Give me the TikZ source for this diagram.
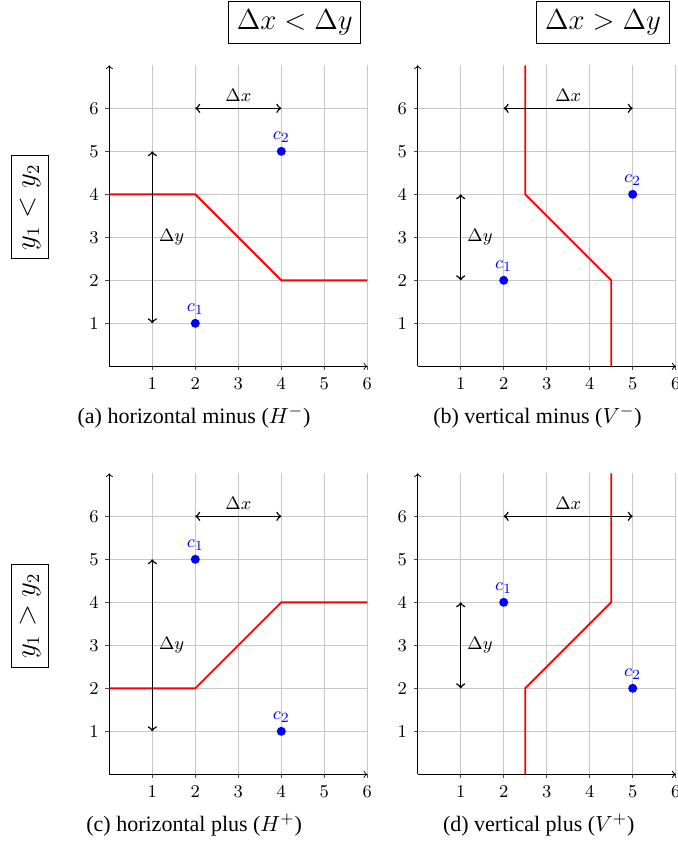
\documentclass[tikz,border=0pt]{standalone}
\usepackage{fontspec}
\setmainfont{Liberation Serif}
\tikzset{
  gridline/.style={black!22, line width=0.55pt},
  axisline/.style={black, line width=0.45pt, ->},
  ticktick/.style={black!70, line width=0.4pt},
  ticklbl/.style={font=\fontsize{9}{10}\selectfont, inner sep=0pt},
  redpath/.style={red, line width=0.95pt, line join=miter},
  dimarrow/.style={<->, black, line width=0.75pt},
  dimlbl/.style={font=\fontsize{9}{10}\selectfont, inner sep=3pt},
  cdot/.style={circle, fill=blue, draw=none, inner sep=0pt, minimum size=4.5pt},
  clabel/.style={text=blue, font=\fontsize{9.5}{10}\selectfont, inner sep=1pt, anchor=south},
  headbox/.style={draw, line width=0.5pt, font=\fontsize{13.5}{16}\selectfont, inner sep=4.2pt},
  captext/.style={font=\fontsize{11}{13}\selectfont, anchor=base, inner sep=0pt}
}
\newcommand{\drawframe}[1]{%
  \foreach \i in {1,...,6} {
    \draw[gridline] (\i,0) -- (\i,7);
    \draw[gridline] (0,\i) -- (6,\i);
    \draw[ticktick] (\i,0) -- ++(0,-2pt);
    \draw[ticktick] (0,\i) -- ++(-2pt,0);
    \node[ticklbl, yshift=-8.5pt] (#1-xt\i) at (\i,0) {$\i$};
    \node[ticklbl, xshift=-7.7pt] (#1-yt\i) at (0,\i) {$\i$};
  }
  \coordinate (#1-o) at (0,0);
  \coordinate (#1-xe) at (6,0);
  \coordinate (#1-ye) at (0,7);
  \draw[axisline] (#1-o) -- (#1-xe);
  \draw[axisline] (#1-o) -- (#1-ye);
}
\begin{document}
\begin{tikzpicture}[x=0.5pt,y=-0.5pt]
\useasboundingbox (0,0) rectangle (677,843);

% column and row headers
\node[headbox] (hdA) at (294.7,22.2) {$\Delta x < \Delta y$};
\node[headbox] (hdB) at (603,22.2) {$\Delta x > \Delta y$};
\node[headbox, rotate=90] (rowA) at (30,207.3) {$y_1 < y_2$};
\node[headbox, rotate=90] (rowB) at (30,616) {$y_1 > y_2$};

% (a)
\begin{scope}[shift={(109.3,366.3)}, x=21.5pt, y=21.5pt]
  \drawframe{a}
  \draw[redpath] (0,4) -- (2,4) -- (4,2) -- (6,2);
  \coordinate (a-dx1) at (2,6); \coordinate (a-dx2) at (4,6);
  \coordinate (a-dy1) at (1,1); \coordinate (a-dy2) at (1,5);
  \draw[dimarrow] (a-dx1) -- node[dimlbl, above] (a-dxl) {$\Delta x$} (a-dx2);
  \draw[dimarrow] (a-dy1) -- node[dimlbl, right] (a-dyl) {$\Delta y$} (a-dy2);
  \node[cdot] (a-c1) at (2,1) {};
  \node[cdot] (a-c2) at (4,5) {};
  \node[clabel] (a-c1l) at ([yshift=0.8pt]a-c1.north) {$c_1$};
  \node[clabel] (a-c2l) at ([yshift=0.8pt]a-c2.north) {$c_2$};
\end{scope}

% (b)
\begin{scope}[shift={(417.7,366.3)}, x=21.5pt, y=21.5pt]
  \drawframe{b}
  \draw[redpath] (2.5,7) -- (2.5,4) -- (4.5,2) -- (4.5,0);
  \coordinate (b-dx1) at (2,6); \coordinate (b-dx2) at (5,6);
  \coordinate (b-dy1) at (1,2); \coordinate (b-dy2) at (1,4);
  \draw[dimarrow] (b-dx1) -- node[dimlbl, above] (b-dxl) {$\Delta x$} (b-dx2);
  \draw[dimarrow] (b-dy1) -- node[dimlbl, right] (b-dyl) {$\Delta y$} (b-dy2);
  \node[cdot] (b-c1) at (2,2) {};
  \node[cdot] (b-c2) at (5,4) {};
  \node[clabel] (b-c1l) at ([yshift=0.8pt]b-c1.north) {$c_1$};
  \node[clabel] (b-c2l) at ([yshift=0.8pt]b-c2.north) {$c_2$};
\end{scope}

% (c)
\begin{scope}[shift={(109.3,774.3)}, x=21.5pt, y=21.5pt]
  \drawframe{c}
  \draw[redpath] (0,2) -- (2,2) -- (4,4) -- (6,4);
  \coordinate (c-dx1) at (2,6); \coordinate (c-dx2) at (4,6);
  \coordinate (c-dy1) at (1,1); \coordinate (c-dy2) at (1,5);
  \draw[dimarrow] (c-dx1) -- node[dimlbl, above] (c-dxl) {$\Delta x$} (c-dx2);
  \draw[dimarrow] (c-dy1) -- node[dimlbl, right] (c-dyl) {$\Delta y$} (c-dy2);
  \node[cdot] (c-c1) at (2,5) {};
  \node[cdot] (c-c2) at (4,1) {};
  \node[clabel] (c-c1l) at ([yshift=0.8pt]c-c1.north) {$c_1$};
  \node[clabel] (c-c2l) at ([yshift=0.8pt]c-c2.north) {$c_2$};
\end{scope}

% (d)
\begin{scope}[shift={(417.7,774.3)}, x=21.5pt, y=21.5pt]
  \drawframe{d}
  \draw[redpath] (2.5,0) -- (2.5,2) -- (4.5,4) -- (4.5,7);
  \coordinate (d-dx1) at (2,6); \coordinate (d-dx2) at (5,6);
  \coordinate (d-dy1) at (1,2); \coordinate (d-dy2) at (1,4);
  \draw[dimarrow] (d-dx1) -- node[dimlbl, above] (d-dxl) {$\Delta x$} (d-dx2);
  \draw[dimarrow] (d-dy1) -- node[dimlbl, right] (d-dyl) {$\Delta y$} (d-dy2);
  \node[cdot] (d-c1) at (2,4) {};
  \node[cdot] (d-c2) at (5,2) {};
  \node[clabel] (d-c1l) at ([yshift=0.8pt]d-c1.north) {$c_1$};
  \node[clabel] (d-c2l) at ([yshift=0.8pt]d-c2.north) {$c_2$};
\end{scope}

% captions
\node[captext] (capA) at (194,423) {(a) horizontal minus ($H^-$)};
\node[captext] (capB) at (537.5,423) {(b) vertical minus ($V^-$)};
\node[captext] (capC) at (194.2,831) {(c) horizontal plus ($H^+$)};
\node[captext] (capD) at (538.7,831) {(d) vertical plus ($V^+$)};
\end{tikzpicture}
\end{document}
